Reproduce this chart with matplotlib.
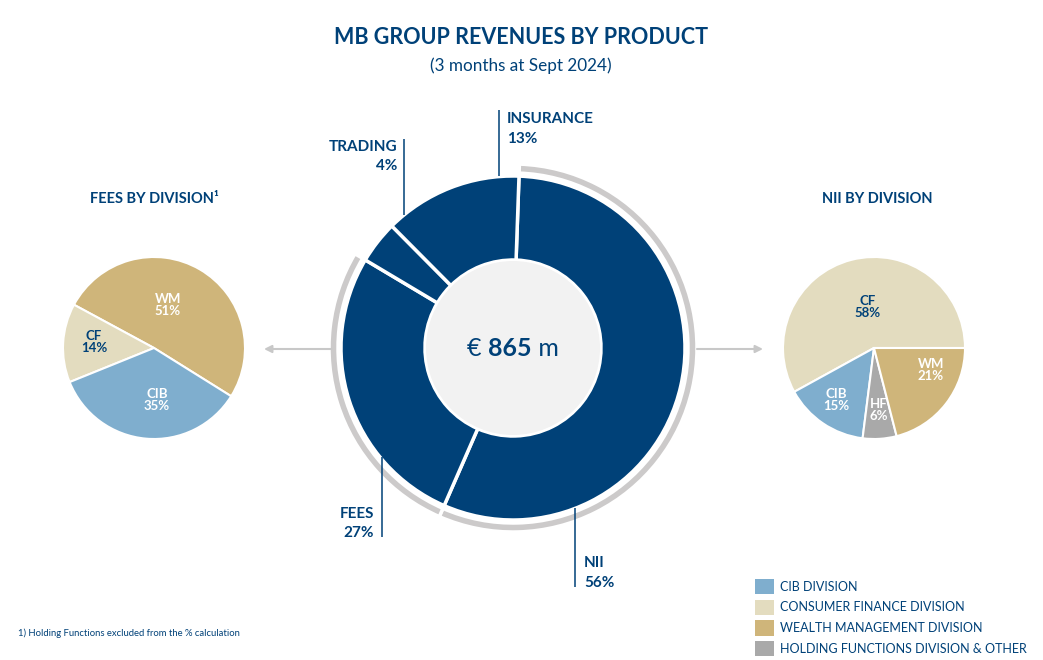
import matplotlib
matplotlib.use("Agg")
import matplotlib.pyplot as plt
from matplotlib.patches import Circle, Patch

# ---------------- data ----------------
product_names = ["NII", "FEES", "TRADING", "INSURANCE"]
product_share = [56, 27, 4, 13]
total_revenue = 865

fees_divisions = ["WM", "CF", "CIB"]
fees_share = [51, 14, 35]

nii_divisions = ["CF", "CIB", "HF", "WM"]
nii_share = [58, 15, 6, 21]

legend_labels = ["CIB DIVISION", "CONSUMER FINANCE DIVISION",
                 "WEALTH MANAGEMENT DIVISION", "HOLDING FUNCTIONS DIVISION & OTHER"]

title = "MB GROUP REVENUES BY PRODUCT"
subtitle = "(3 months at Sept 2024)"
footnote = "1) Holding Functions excluded from the % calculation"

# ---------------- style ----------------
BLUE = "#004178"
CIB_C = "#7FAECE"
CF_C = "#E3DCBF"
WM_C = "#CFB57A"
HF_C = "#A9A9A9"
RING = "#CCCACA"
INNER = "#F2F2F2"
ARROW = "#C8C8C8"
div_colors = {"CIB": CIB_C, "CF": CF_C, "WM": WM_C, "HF": HF_C}

plt.rcParams["font.family"] = ["Lato", "DejaVu Sans"]

W, H = 1043, 660
fig = plt.figure(figsize=(W / 100, H / 100), dpi=100)
ax = fig.add_axes([0, 0, 1, 1])


def Y(y):
    return H - y


# ---------------- central donut ----------------
C = (513, Y(348))
R_OUT, R_IN = 172, 88
ax.pie(product_share, center=C, radius=R_OUT, startangle=88, counterclock=False,
       colors=[BLUE] * len(product_share), frame=True,
       wedgeprops=dict(width=R_OUT - R_IN, edgecolor="white", linewidth=2.5))
# grey outer ring for NII and FEES
ring, _ = ax.pie(product_share, center=C, radius=184, startangle=88, counterclock=False,
                 colors=[RING] * len(product_share), frame=True,
                 wedgeprops=dict(width=9, edgecolor="white", linewidth=2.5))
for wdg, name in zip(ring, product_names):
    if name not in ("NII", "FEES"):
        wdg.set_visible(False)
ax.add_patch(Circle(C, R_IN - 1, facecolor=INNER, edgecolor="none", zorder=3))

# centre text "€ 865 m"
fig.canvas.draw()
rend = fig.canvas.get_renderer()
parts = [("€ ", "normal"), (f"{total_revenue}", "bold"), (" m", "normal")]
texts = []
for s, wgt in parts:
    t = ax.text(0, C[1], s, fontsize=18, fontweight=wgt, color=BLUE,
                ha="left", va="center", zorder=5)
    texts.append(t)
widths = [t.get_window_extent(rend).width for t in texts]
x0 = C[0] - sum(widths) / 2
for t, wd in zip(texts, widths):
    t.set_x(x0)
    x0 += wd

# leader lines and labels
lab_fs = 11
def leader(x, y1, y2):
    ax.plot([x, x], [Y(y1), Y(y2)], color=BLUE, lw=1.1, solid_capstyle="butt", zorder=4)

share = dict(zip(product_names, product_share))
# INSURANCE
leader(499, 110, 176)
ax.text(507, Y(123), "INSURANCE", fontsize=lab_fs, fontweight="bold", color=BLUE, ha="left", va="baseline")
ax.text(507, Y(143), f"{share['INSURANCE']}%", fontsize=lab_fs, fontweight="bold", color=BLUE, ha="left", va="baseline")
# TRADING
leader(404, 139, 215)
ax.text(397, Y(151), "TRADING", fontsize=lab_fs, fontweight="bold", color=BLUE, ha="right", va="baseline")
ax.text(397, Y(170), f"{share['TRADING']}%", fontsize=lab_fs, fontweight="bold", color=BLUE, ha="right", va="baseline")
# FEES
leader(382, 457, 537)
ax.text(374, Y(518), "FEES", fontsize=lab_fs, fontweight="bold", color=BLUE, ha="right", va="baseline")
ax.text(374, Y(537), f"{share['FEES']}%", fontsize=lab_fs, fontweight="bold", color=BLUE, ha="right", va="baseline")
# NII
leader(575, 508, 587)
ax.text(584, Y(567), "NII", fontsize=lab_fs, fontweight="bold", color=BLUE, ha="left", va="baseline")
ax.text(584, Y(587), f"{share['NII']}%", fontsize=lab_fs, fontweight="bold", color=BLUE, ha="left", va="baseline")

# ---------------- side pies ----------------
def side_pie(center, names, values, start, offsets, txtcolors):
    ax.pie(values, center=center, radius=91, startangle=start, counterclock=True,
           colors=[div_colors[n] for n in names], frame=True,
           wedgeprops=dict(edgecolor="white", linewidth=1.5))
    for n, v in zip(names, values):
        dx, dy = offsets[n]
        ax.text(center[0] + dx, center[1] - dy, f"{n}\n{v}%", fontsize=9.5,
                fontweight="bold", color=txtcolors[n], ha="center", va="center",
                linespacing=1.05, zorder=5)

LC = (154, Y(348))
side_pie(LC, fees_divisions, fees_share, -32,
         {"WM": (14, -43), "CF": (-60, -6), "CIB": (3, 52)},
         {"WM": "white", "CF": BLUE, "CIB": "white"})
RC = (874, Y(348))
side_pie(RC, nii_divisions, nii_share, 0,
         {"CF": (-6, -41), "WM": (57, 22), "HF": (5, 62), "CIB": (-38, 52)},
         {"CF": BLUE, "WM": "white", "HF": "white", "CIB": "white"})

ax.text(154, Y(199), "FEES BY DIVISION\u00b9", fontsize=10.5, fontweight="bold",
        color=BLUE, ha="center", va="center")
ax.text(877, Y(199), "NII BY DIVISION", fontsize=10.5, fontweight="bold",
        color=BLUE, ha="center", va="center")

# arrows
ax.annotate("", xy=(264, Y(349)), xytext=(331, Y(349)),
            arrowprops=dict(arrowstyle="-|>", color=ARROW, lw=1.5, mutation_scale=11,
                            shrinkA=0, shrinkB=0))
ax.annotate("", xy=(763, Y(349)), xytext=(697, Y(349)),
            arrowprops=dict(arrowstyle="-|>", color=ARROW, lw=1.5, mutation_scale=11,
                            shrinkA=0, shrinkB=0))

# ---------------- titles ----------------
ax.text(521, Y(38), title, fontsize=15.5, fontweight="bold", color=BLUE, ha="center", va="center")
ax.text(521, Y(66), subtitle, fontsize=12.3, color=BLUE, ha="center", va="center")
ax.text(18, Y(633), footnote, fontsize=6.8, color=BLUE, ha="left", va="center")

# ---------------- legend ----------------
handles = [Patch(facecolor=c, edgecolor="none") for c in (CIB_C, CF_C, WM_C, HF_C)]
leg = ax.legend(handles, legend_labels, loc="upper left",
                bbox_to_anchor=(755 / W, 1 - 579 / H), bbox_transform=fig.transFigure,
                frameon=False, fontsize=9.0, handlelength=1.5, handleheight=1.5,
                handletextpad=0.5, labelspacing=0.43, borderpad=0, borderaxespad=0)
for t in leg.get_texts():
    t.set_color(BLUE)

ax.set_xlim(0, W)
ax.set_ylim(0, H)
ax.set_aspect("auto")
ax.set_axis_off()

fig.savefig("out.png", dpi=100, facecolor="white")
